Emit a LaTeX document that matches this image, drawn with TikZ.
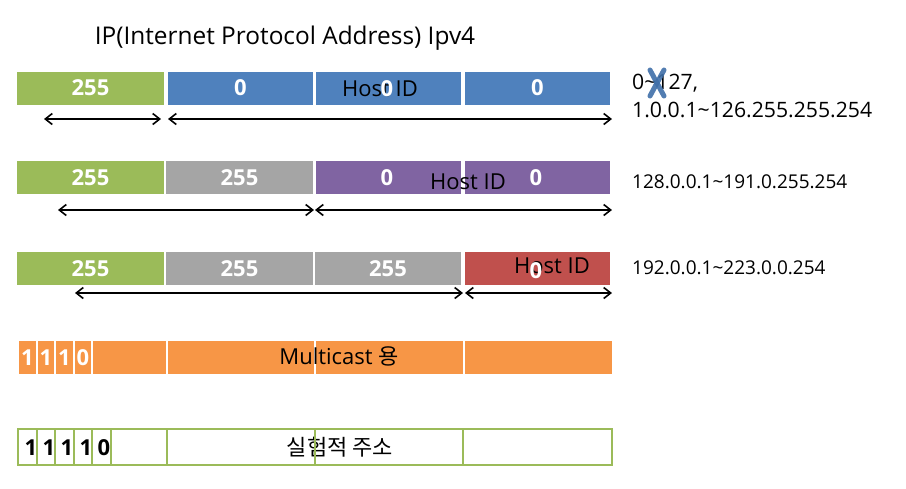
\documentclass[tikz,border=0pt]{standalone}
\usepackage{fontspec}
\setmainfont{Open Sans}
\newfontfamily\krfont{Noto Sans CJK KR}
\usetikzlibrary{arrows.meta}
\definecolor{cgreen}{HTML}{9BBB59}
\definecolor{cblue}{HTML}{4F81BD}
\definecolor{cgrey}{HTML}{A5A5A5}
\definecolor{cpurple}{HTML}{8064A2}
\definecolor{cred}{HTML}{C0504D}
\definecolor{corange}{HTML}{F79646}
\definecolor{cxblue}{HTML}{3F6FA8}
\newcommand{\tl}{{\char"007E}}
\tikzset{
  cell/.style={inner sep=0pt, minimum height=33pt, text=white, font=\fontsize{22}{22}\selectfont\bfseries},
  ocell/.style={inner sep=0pt, minimum height=36pt, draw=cgreen, line width=2.2pt},
  lbl/.style={inner sep=0pt, font=\fontsize{22}{22}\selectfont},
  rlbl/.style={inner sep=0pt, anchor=west, font=\fontsize{19}{19}\selectfont},
  dig/.style={inner sep=0pt, font=\fontsize{22}{22}\selectfont\bfseries},
  span/.style={{Straight Barb[length=7pt,width=11pt]}-{Straight Barb[length=7pt,width=11pt]}, line width=1.6pt},
}
\begin{document}
\begin{tikzpicture}[x=1pt,y=-1pt]
\useasboundingbox (0,0) rectangle (906,488);
% title
\node[lbl, font=\fontsize{24.4}{24.4}\selectfont] (title) at (285,38) {IP(Internet Protocol Address) Ipv4};

% row 1 (class A)
\node[cell, fill=cgreen, minimum width=147pt] (a1) at (90.5,88) {255};
\node[cell, fill=cblue, minimum width=145pt] (a2) at (240.5,88) {0};
\node[cell, fill=cblue, minimum width=145pt] (a3) at (388.5,88) {};
\node[cell, fill=cblue, minimum width=145pt] (a4) at (537.5,88) {0};
\node[lbl] (ahost) at (380,89) {Host ID};
\node[cell] (a3z) at (387,89) {0};
\coordinate (a1l) at (44,119);
\coordinate (a1r) at (161,119);
\coordinate (a2l) at (168,119);
\coordinate (a2r) at (612,119);
\draw[span] (a1l) -- (a1r);
\draw[span] (a2l) -- (a2r);
\node[lbl, anchor=west, font=\fontsize{21.2}{21.2}\selectfont] (alab1) at (632,83) {0\tl127,};
\node[lbl, anchor=west, font=\fontsize{21.2}{21.2}\selectfont] (alab2) at (632,110) {1.0.0.1\tl126.255.255.254};
\coordinate (x1a) at (650,70);
\coordinate (x1b) at (664,96);
\coordinate (x2a) at (664,70);
\coordinate (x2b) at (650,96);
\draw[cxblue, line width=5pt, line cap=round, opacity=0.9] (x1a) -- (x1b);
\draw[cxblue, line width=5pt, line cap=round, opacity=0.9] (x2a) -- (x2b);

% row 2 (class B)
\node[cell, fill=cgreen, minimum width=147pt] (b1) at (90.5,177.5) {255};
\node[cell, fill=cgrey, minimum width=147pt] (b2) at (239.5,177.5) {255};
\node[cell, fill=cpurple, minimum width=145pt] (b3) at (388.5,177.5) {};
\node[cell, fill=cpurple, minimum width=145pt] (b4) at (537.5,177.5) {};
\node[cell] (b3z) at (387,178) {0};
\node[cell] (b4z) at (536,178) {0};
\node[lbl] (bhost) at (468,182) {Host ID};
\coordinate (b1l) at (58,210);
\coordinate (b1r) at (314,210);
\coordinate (b2l) at (315,210);
\coordinate (b2r) at (612,210);
\draw[span] (b1l) -- (b1r);
\draw[span] (b2l) -- (b2r);
\node[rlbl] (blab) at (632,182) {128.0.0.1\tl191.0.255.254};

% row 3 (class C)
\node[cell, fill=cgreen, minimum width=147pt] (c1) at (90.5,268.5) {255};
\node[cell, fill=cgrey, minimum width=147pt] (c2) at (239.5,268.5) {255};
\node[cell, fill=cgrey, minimum width=146pt] (c3) at (388,268.5) {255};
\node[cell, fill=cred, minimum width=145pt] (c4) at (537.5,268.5) {};
\node[lbl] (chost) at (552,266) {Host ID};
\node[cell] (c4z) at (536,271) {0};
\coordinate (c1l) at (75,293);
\coordinate (c1r) at (463,293);
\coordinate (c2l) at (465,293);
\coordinate (c2r) at (612,293);
\draw[span] (c1l) -- (c1r);
\draw[span] (c2l) -- (c2r);
\node[rlbl] (clab) at (632,268) {192.0.0.1\tl223.0.0.254};

% row 4 (multicast)
\node[cell, fill=corange, minimum width=17pt] (d1) at (27.5,357.5) {1};
\node[cell, fill=corange, minimum width=16pt] (d2) at (46,357.5) {1};
\node[cell, fill=corange, minimum width=17pt] (d3) at (64.5,357.5) {1};
\node[cell, fill=corange, minimum width=16pt] (d4) at (83,357.5) {0};
\node[cell, fill=corange, minimum width=73pt] (d5) at (129.5,357.5) {};
\node[cell, fill=corange, minimum width=146pt] (d6) at (241,357.5) {};
\node[cell, fill=corange, minimum width=147pt] (d7) at (389.5,357.5) {};
\node[cell, fill=corange, minimum width=147pt] (d8) at (538.5,357.5) {};
\node[lbl] (dtext) at (339,356) {Multicast {\krfont 용}};

% row 5 (experimental)
\node[lbl] (etext) at (340,447) {\krfont 실험적 주소};
\node[dig] (e1) at (31,448) {1};
\node[dig] (e2) at (49,448) {1};
\node[dig] (e3) at (67,448) {1};
\node[dig] (e4) at (86,448) {1};
\node[dig] (e5) at (104,448) {0};
\node[ocell, minimum width=19pt] (f1) at (27.5,447) {};
\node[ocell, minimum width=18pt] (f2) at (46,447) {};
\node[ocell, minimum width=19pt] (f3) at (64.5,447) {};
\node[ocell, minimum width=18pt] (f4) at (83,447) {};
\node[ocell, minimum width=19pt] (f5) at (101.5,447) {};
\node[ocell, minimum width=56pt] (f6) at (139,447) {};
\node[ocell, minimum width=148pt] (f7) at (241,447) {};
\node[ocell, minimum width=148pt] (f8) at (389,447) {};
\node[ocell, minimum width=149pt] (f9) at (537.5,447) {};
\end{tikzpicture}
\end{document}
